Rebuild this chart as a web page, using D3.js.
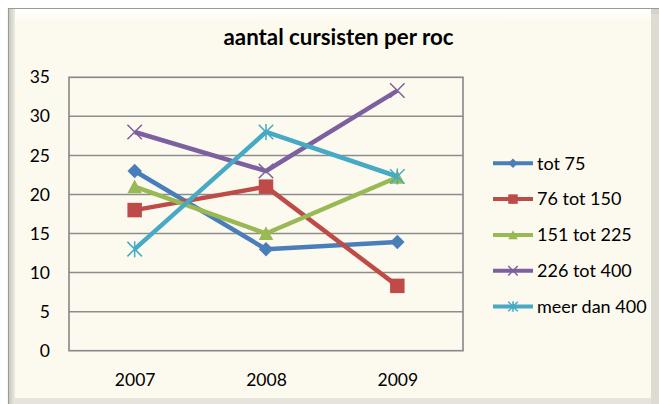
<!DOCTYPE html>
<html>
<head>
<meta charset="utf-8">
<script src="https://cdn.jsdelivr.net/npm/d3@7"></script>
<style>
  body { margin: 0; background: #fff; }
  text { font-family: Lato, "Open Sans", sans-serif; fill: #000; }
</style>
</head>
<body>
<div id="chart"></div>
<script>
// data
const years = ['2007', '2008', '2009'];
const seriesNames = ['tot 75', '76 tot 150', '151 tot 225', '226 tot 400', 'meer dan 400'];
const tot75 = [23, 13, 13.9];
const tot150 = [18, 21, 8.3];
const tot225 = [21, 15, 22.2];
const tot400 = [28, 23, 33.3];
const meer400 = [13, 28, 22.3];
const yTicks = [0, 5, 10, 15, 20, 25, 30, 35];

const colors = ['#4A7EBB', '#BE4B48', '#98B954', '#7D60A0', '#46AAC5'];
const shapes = ['diamond', 'square', 'triangle', 'x', 'star'];
const series = [tot75, tot150, tot225, tot400, meer400].map((v, i) => ({
  name: seriesNames[i], values: v, color: colors[i], shape: shapes[i]
}));

const W = 659, H = 404;
const plot = { left: 69, top: 77.3, right: 463, bottom: 350.7 };

const svg = d3.select('#chart').append('svg')
  .attr('width', W).attr('height', H);

// frame with bevel
const defs = svg.append('defs');
const gTop = defs.append('linearGradient').attr('id', 'gtop').attr('x1', 0).attr('y1', 0).attr('x2', 0).attr('y2', 1);
gTop.append('stop').attr('offset', 0).attr('stop-color', '#ffffff');
gTop.append('stop').attr('offset', 1).attr('stop-color', '#fcfaef');
const gSide = defs.append('linearGradient').attr('id', 'gside').attr('x1', 0).attr('y1', 0).attr('x2', 1).attr('y2', 0);
gSide.append('stop').attr('offset', 0).attr('stop-color', '#c8c8c0');
gSide.append('stop').attr('offset', 1).attr('stop-color', '#ecebe3');

svg.append('rect').attr('x', 8).attr('y', 8).attr('width', W - 8).attr('height', H - 8)
  .attr('fill', '#d4d3cb');
svg.append('line').attr('x1', 8).attr('x2', W).attr('y1', 8.5).attr('y2', 8.5)
  .attr('stroke', '#9a9a9a').attr('stroke-width', 1.2);
svg.append('line').attr('x1', 8.5).attr('x2', 8.5).attr('y1', 8).attr('y2', H)
  .attr('stroke', '#9a9a9a').attr('stroke-width', 1.2);
svg.append('rect').attr('x', 9).attr('y', 9).attr('width', 6).attr('height', H - 9)
  .attr('fill', 'url(#gside)');
svg.append('rect').attr('x', 15).attr('y', 9).attr('width', 636).attr('height', 390)
  .attr('fill', '#fcfaef');
svg.append('rect').attr('x', 15).attr('y', 9).attr('width', 636).attr('height', 13)
  .attr('fill', 'url(#gtop)');
svg.append('rect').attr('x', 651).attr('y', 14).attr('width', 8).attr('height', H - 14)
  .attr('fill', '#dedcd2');
svg.append('rect').attr('x', 15).attr('y', 398).attr('width', 636).attr('height', 6)
  .attr('fill', '#e6e4da');

// scales
const x = d3.scalePoint().domain(years).range([plot.left, plot.right]).padding(0.5);
const y = d3.scaleLinear().domain([0, 35]).range([plot.bottom, plot.top]);

// gridlines
svg.append('g').selectAll('line').data(yTicks.slice(1, -1)).join('line')
  .attr('x1', plot.left).attr('x2', plot.right)
  .attr('y1', d => y(d)).attr('y2', d => y(d))
  .attr('stroke', '#8c8c8c').attr('stroke-width', 1.5);

svg.append('rect')
  .attr('x', plot.left).attr('y', plot.top)
  .attr('width', plot.right - plot.left).attr('height', plot.bottom - plot.top)
  .attr('fill', 'none').attr('stroke', '#868686').attr('stroke-width', 1.6);

// axes
const yAxis = svg.append('g').attr('transform', `translate(${plot.left},0)`)
  .call(d3.axisLeft(y).tickValues(yTicks).tickSize(0).tickPadding(19));
yAxis.select('.domain').remove();
yAxis.selectAll('text').style('font-size', '17.5px').attr('font-family', null);

const xAxis = svg.append('g').attr('transform', `translate(0,${plot.bottom})`)
  .call(d3.axisBottom(x).tickSize(0).tickPadding(23));
xAxis.select('.domain').remove();
xAxis.selectAll('text').style('font-size', '17.5px').attr('font-family', null);

// title
svg.append('text').attr('x', 338.5).attr('y', 45).attr('text-anchor', 'middle')
  .style('font-size', '22.3px').style('font-weight', 'bold')
  .text('aantal cursisten per roc');

function marker(g, shape, color, s) {
  const h = s / 2;
  if (shape === 'diamond') {
    g.append('path').attr('d', `M0,${-h}L${h},0L0,${h}L${-h},0Z`).attr('fill', color);
  } else if (shape === 'square') {
    g.append('rect').attr('x', -h).attr('y', -h).attr('width', s).attr('height', s).attr('fill', color);
  } else if (shape === 'triangle') {
    g.append('path').attr('d', `M0,${-h}L${h},${h * 0.9}L${-h},${h * 0.9}Z`).attr('fill', color);
  } else if (shape === 'x') {
    g.append('path').attr('d', `M${-h},${-h}L${h},${h}M${h},${-h}L${-h},${h}`)
      .attr('stroke', color).attr('stroke-width', 1.5).attr('fill', 'none');
  } else {
    g.append('path').attr('d', `M${-h},${-h}L${h},${h}M${h},${-h}L${-h},${h}M0,${-h * 1.1}L0,${h * 1.1}`)
      .attr('stroke', color).attr('stroke-width', 1.5).attr('fill', 'none');
  }
}

const line = d3.line().x((d, i) => x(years[i])).y(d => y(d));

series.forEach(s => {
  svg.append('path').datum(s.values)
    .attr('d', line)
    .attr('fill', 'none').attr('stroke', s.color)
    .attr('stroke-width', 4.5).attr('stroke-linejoin', 'round');
  s.values.forEach((v, i) => {
    const g = svg.append('g').attr('transform', `translate(${x(years[i])},${y(v)})`);
    marker(g, s.shape, s.color, 14.5);
  });
});

// legend
const legend = svg.append('g');
series.forEach((s, i) => {
  const ly = 163.3 + i * 35.8;
  legend.append('line').attr('x1', 493).attr('x2', 533).attr('y1', ly).attr('y2', ly)
    .attr('stroke', s.color).attr('stroke-width', 4);
  const g = legend.append('g').attr('transform', `translate(513,${ly})`);
  marker(g, s.shape, s.color, 9.5);
  legend.append('text').attr('x', 537).attr('y', ly).attr('dy', '0.35em')
    .style('font-size', '18px').text(s.name);
});
</script>
</body>
</html>
